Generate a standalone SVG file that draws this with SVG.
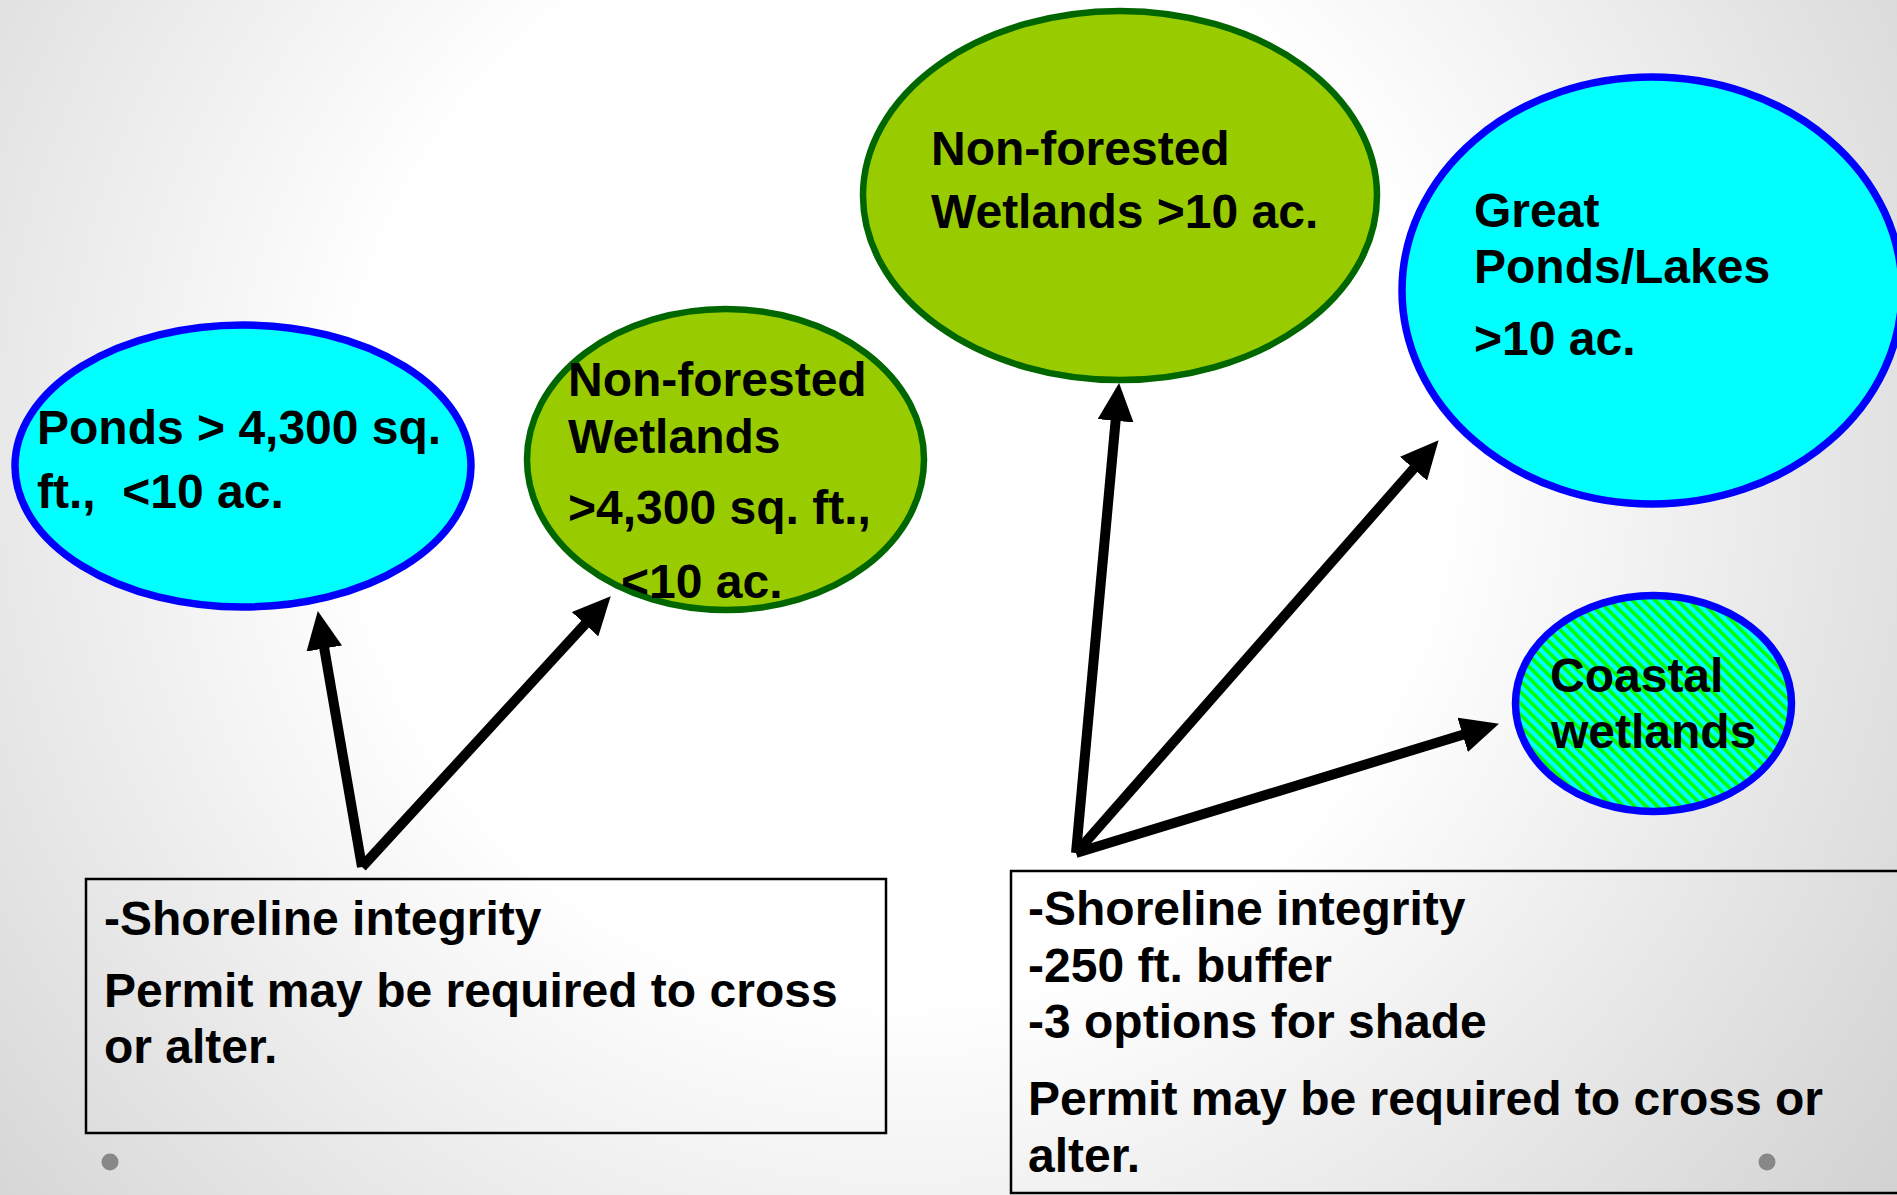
<svg xmlns="http://www.w3.org/2000/svg" width="1897" height="1195" viewBox="0 0 1897 1195">
  <style>
    .t { font-family: "Liberation Sans", Arial, sans-serif; font-weight: bold; font-size: 48px; fill: #000; white-space: pre; }
    .pond { fill: #00ffff; stroke: #0000ff; stroke-width: 7.5; }
    .wet { fill: #99cc00; stroke: #006600; stroke-width: 6.5; }
    .coast { fill: url(#hatch); stroke: #0000ff; stroke-width: 7.5; }
    .box { fill: none; stroke: #000; stroke-width: 2.5; }
    .arrow { stroke: #000; stroke-width: 10; fill: none; marker-end: url(#head); }
    .dot { fill: #888888; }
  </style>
  <defs>
    <radialGradient id="bg" gradientUnits="userSpaceOnUse" cx="900" cy="450" r="1300">
      <stop offset="0" stop-color="#ffffff"/>
      <stop offset="0.42" stop-color="#ffffff"/>
      <stop offset="1" stop-color="#cecece"/>
    </radialGradient>
    <pattern id="hatch" patternUnits="userSpaceOnUse" width="8" height="8" patternTransform="rotate(-45)">
      <rect x="0" y="0" width="8" height="8" fill="#00ffff"/>
      <rect x="0" y="0" width="3.6" height="8" fill="#00ff00"/>
    </pattern>
    <marker id="head" markerUnits="userSpaceOnUse" markerWidth="38" markerHeight="36" viewBox="0 0 38 36" refX="1" refY="18" orient="auto">
      <path d="M0,0 L38,18 L0,36 Z" fill="#000"/>
    </marker>
  </defs>

  <rect x="0" y="0" width="1897" height="1195" fill="url(#bg)"/>

  <g id="node-ponds">
    <ellipse class="pond" cx="243" cy="466" rx="228" ry="141"/>
    <text class="t" x="37" y="444">Ponds &gt; 4,300 sq.</text>
    <text class="t" x="37" y="508">ft.,  &lt;10 ac.</text>
  </g>

  <g id="node-wetlands-small">
    <ellipse class="wet" cx="725.5" cy="459.5" rx="198.5" ry="150.5"/>
    <text class="t" x="568" y="396">Non-forested</text>
    <text class="t" x="568" y="453">Wetlands</text>
    <text class="t" x="568" y="524">&gt;4,300 sq. ft.,</text>
    <text class="t" x="621" y="598">&lt;10 ac.</text>
  </g>

  <g id="node-wetlands-large">
    <ellipse class="wet" cx="1120" cy="195.5" rx="257" ry="184.5"/>
    <text class="t" x="931" y="165">Non-forested</text>
    <text class="t" x="931" y="228">Wetlands &gt;10 ac.</text>
  </g>

  <g id="node-great-ponds">
    <ellipse class="pond" cx="1652" cy="290.5" rx="250" ry="213.5"/>
    <text class="t" x="1474" y="227">Great</text>
    <text class="t" x="1474" y="283">Ponds/Lakes</text>
    <text class="t" x="1474" y="355">&gt;10 ac.</text>
  </g>

  <g id="node-coastal">
    <ellipse class="coast" cx="1653.5" cy="703.5" rx="138" ry="108"/>
    <text class="t" x="1550" y="692">Coastal</text>
    <text class="t" x="1551" y="748">wetlands</text>
  </g>

  <g id="node-box-left">
    <rect class="box" x="86" y="879" width="800" height="254"/>
    <text class="t" x="104" y="935">-Shoreline integrity</text>
    <text class="t" x="104" y="1007">Permit may be required to cross</text>
    <text class="t" x="104" y="1063">or alter.</text>
  </g>

  <g id="node-box-right">
    <rect class="box" x="1011" y="871" width="900" height="322"/>
    <text class="t" x="1028" y="925">-Shoreline integrity</text>
    <text class="t" x="1028" y="982">-250 ft. buffer</text>
    <text class="t" x="1028" y="1038">-3 options for shade</text>
    <text class="t" x="1028" y="1115">Permit may be required to cross or</text>
    <text class="t" x="1028" y="1172">alter.</text>
  </g>

  <g id="connectors">
    <line class="arrow" x1="362" y1="867" x2="324.1" y2="647.5"/>
    <line class="arrow" x1="362" y1="867" x2="585.7" y2="623.5"/>
    <line class="arrow" x1="1076" y1="853" x2="1115.7" y2="419.8"/>
    <line class="arrow" x1="1076" y1="853" x2="1414.2" y2="468"/>
    <line class="arrow" x1="1076" y1="853" x2="1463.6" y2="734.5"/>
  </g>

  <g id="dots">
    <circle class="dot" cx="110" cy="1162" r="8.5"/>
    <circle class="dot" cx="1767" cy="1162" r="8.5"/>
  </g>
</svg>
